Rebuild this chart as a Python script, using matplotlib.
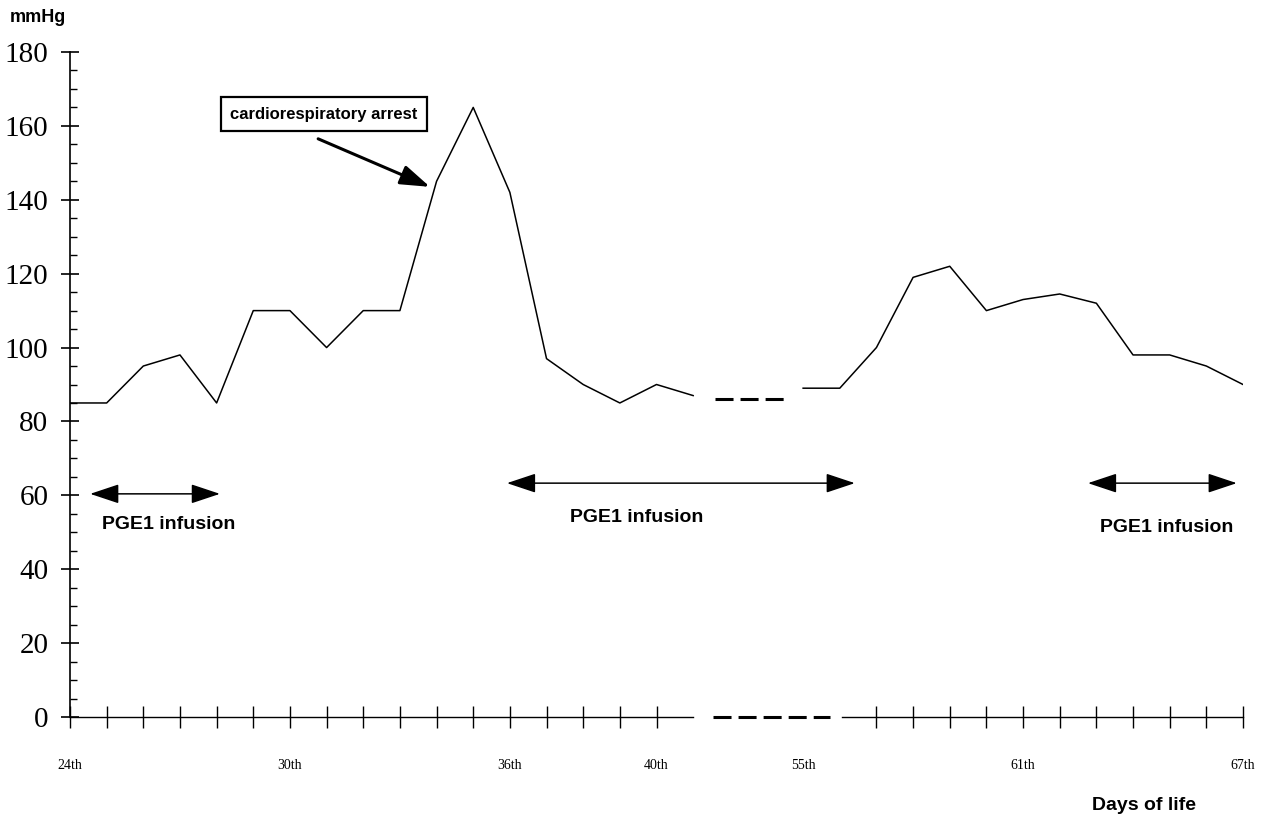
import numpy as np
import matplotlib.pyplot as plt
from matplotlib.ticker import MultipleLocator, FixedLocator

# Blood pressure (mmHg) by day of life, axis is broken between day 41 and 55
days_left = np.arange(24, 42)
bp_left = [85, 85, 95, 98, 85, 110, 110, 100, 110, 110, 145, 165, 142, 97, 90, 85, 90, 87]
days_right = np.arange(55, 68)
bp_right = [89, 89, 100, 119, 122, 110, 113, 114.5, 112, 98, 98, 95, 90]

# days 55.. are drawn right after day 41 with a short gap
GAP_SHIFT = 35
pos_left = days_left - 24
pos_right = days_right - GAP_SHIFT

# dashed bridge across the gap
gap_x = [17.6, 19.5]
gap_level = 86

tick_days = [24, 30, 36, 40, 55, 61, 67]
tick_labels = [f"{d}th" for d in tick_days]
tick_pos = [d - 24 if d <= 41 else d - GAP_SHIFT for d in tick_days]
minor_pos = list(pos_left[:-1]) + list(range(22, 33))

# PGE1 infusion periods (x from, x to, arrow height, label x, label y)
pge_start = [0.55, 11.92, 27.77]
pge_end = [4.09, 21.41, 31.83]
pge_y = [60.4, 63.3, 63.3]
pge_label_x = [2.7, 15.45, 29.93]
pge_label_y = [52.0, 54.1, 51.4]

fig = plt.figure(figsize=(12.71, 8.19), dpi=100)
ax = fig.add_axes([70 / 1271, 1 - 717 / 819, 1173 / 1271, 665 / 819])

ax.plot(pos_left, bp_left, color='black', lw=1.1)
ax.plot(pos_right, bp_right, color='black', lw=1.1)
ax.plot(gap_x, [gap_level, gap_level], color='black', lw=2.2,
        linestyle=(0, (5.9, 2.3)))

# broken x axis drawn by hand
ax.plot([0, 17], [0, 0], color='black', lw=1.0, clip_on=False)
ax.plot([21.05, 32], [0, 0], color='black', lw=1.0, clip_on=False)
ax.plot([17.55, 20.73], [0, 0], color='black', lw=2.2, clip_on=False,
        linestyle=(0, (5.9, 2.3)))

ax.set_xlim(0, 32)
ax.set_ylim(0, 180)
for s in ['top', 'right', 'bottom']:
    ax.spines[s].set_visible(False)
ax.spines['left'].set_linewidth(1.2)

ax.yaxis.set_major_locator(MultipleLocator(20))
ax.yaxis.set_minor_locator(MultipleLocator(5))
ax.tick_params(axis='y', which='major', direction='inout', length=13, width=1.2,
               pad=9, labelsize=21)
ax.tick_params(axis='y', which='minor', direction='in', length=5, width=1.0)
for lab in ax.get_yticklabels():
    lab.set_fontfamily('Liberation Serif')

ax.xaxis.remove_overlapping_locs = False
ax.xaxis.set_major_locator(FixedLocator(tick_pos))
ax.xaxis.set_minor_locator(FixedLocator(minor_pos))
ax.set_xticklabels(tick_labels, fontfamily='Liberation Serif', fontsize=10)
ax.tick_params(axis='x', which='major', length=0, pad=30)
ax.tick_params(axis='x', which='minor', direction='inout', length=16, width=1.0)

# annotation
ax.text(6.93, 163.2, 'cardiorespiratory arrest', fontfamily='Liberation Sans',
        fontweight='bold', fontsize=12, ha='center', va='center',
        bbox=dict(boxstyle='square,pad=0.55', fc='white', ec='black', lw=1.6))
ax.annotate('', xy=(9.82, 143.5), xytext=(6.77, 156.5),
            arrowprops=dict(arrowstyle='-|>,head_length=0.9,head_width=0.3',
                            color='black', lw=2.2, mutation_scale=20,
                            shrinkA=0, shrinkB=0))

for x0, x1, y, lx, ly in zip(pge_start, pge_end, pge_y, pge_label_x, pge_label_y):
    ax.annotate('', xy=(x1, y), xytext=(x0, y),
                arrowprops=dict(arrowstyle='<|-|>,head_length=0.9,head_width=0.3',
                                color='black', lw=1.1, mutation_scale=20,
                                shrinkA=0, shrinkB=0))
    ax.text(lx, ly, 'PGE1 infusion', fontfamily='Liberation Sans', fontweight='bold',
            fontsize=14, ha='center', va='center')

fig.text(10 / 1271, 1 - 18 / 819, 'mmHg', fontfamily='Liberation Sans',
         fontweight='bold', fontsize=13, ha='left', va='center')
fig.text(1092 / 1271, 1 - 806 / 819, 'Days of life', fontfamily='Liberation Sans',
         fontweight='bold', fontsize=14, ha='left', va='center')

fig.savefig('out.png', dpi=100, facecolor='white')
